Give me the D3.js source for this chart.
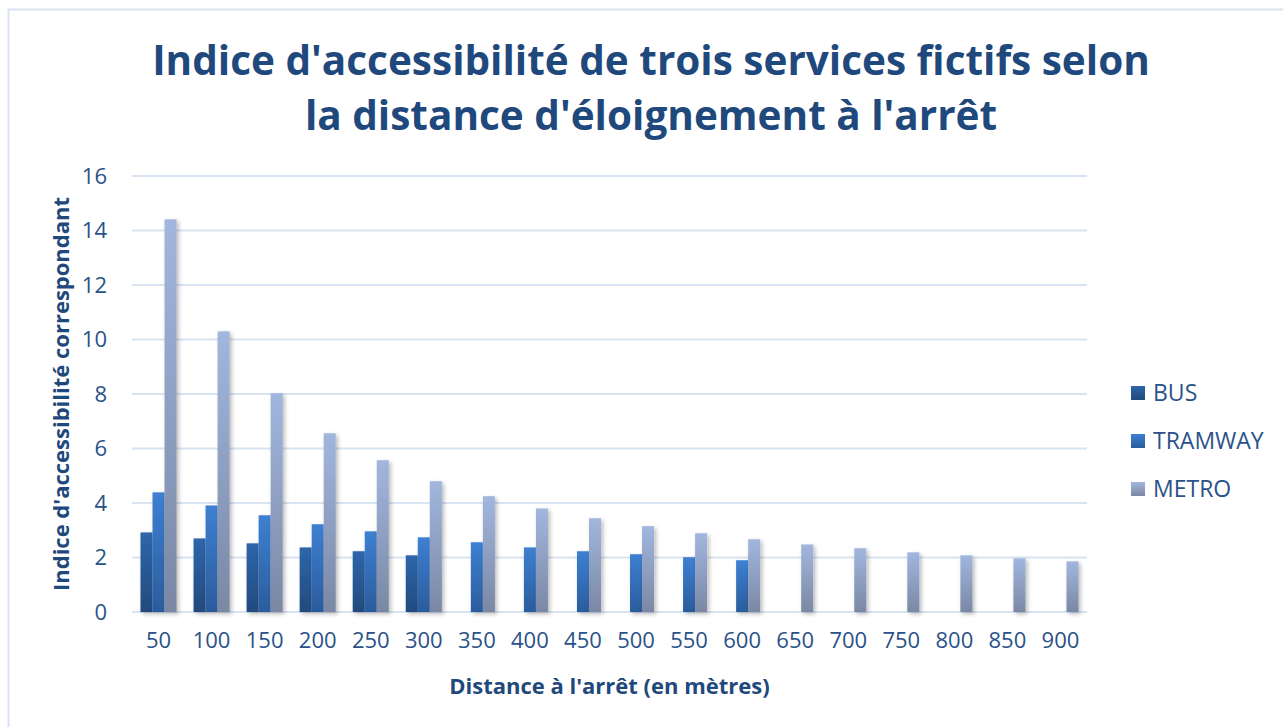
<!DOCTYPE html>
<html lang="fr">
<head>
<meta charset="utf-8">
<script src="https://cdn.jsdelivr.net/npm/d3@7"></script>
<style>
  html, body { margin: 0; padding: 0; background: #fff; }
  #chart { width: 1283px; height: 727px; }
  text { font-family: "Open Sans", "Noto Sans", sans-serif; }
</style>
</head>
<body>
<div id="chart"></div>
<script>
  'use strict';

  const CATEGORIES = ['50', '100', '150', '200', '250', '300', '350', '400', '450',
    '500', '550', '600', '650', '700', '750', '800', '850', '900'];
  const SERIES = ['BUS', 'TRAMWAY', 'METRO'];
  const BUS = [2.92, 2.70, 2.52, 2.37, 2.23, 2.08, null, null, null,
    null, null, null, null, null, null, null, null, null];
  const TRAMWAY = [4.39, 3.91, 3.55, 3.22, 2.96, 2.74, 2.56, 2.37, 2.23,
    2.12, 2.01, 1.90, null, null, null, null, null, null];
  const METRO = [14.41, 10.30, 8.03, 6.56, 5.57, 4.80, 4.25, 3.80, 3.44,
    3.15, 2.89, 2.67, 2.48, 2.34, 2.19, 2.08, 1.97, 1.86];
  const Y_TICKS = [0, 2, 4, 6, 8, 10, 12, 14, 16];

  const VALUES = { BUS: BUS, TRAMWAY: TRAMWAY, METRO: METRO };

  // top / bottom colours of the vertical gradients
  const GRADIENTS = {
    BUS: ['#2e66aa', '#224a7e'],
    TRAMWAY: ['#3d80d2', '#2b5c9c'],
    METRO: ['#a2b6de', '#7a88a4'],
  };

  const TITLE_COLOR = '#1f497d';
  const TICK_COLOR = '#2a5288';
  const GRID_COLOR = '#d9e4f3';

  const width = 1283;
  const height = 727;
  const margin = { top: 176, right: 196, bottom: 115, left: 132 };
  const chartW = width - margin.left - margin.right;
  const chartH = height - margin.top - margin.bottom;

  const svg = d3.select('#chart')
    .append('svg')
    .attr('width', width)
    .attr('height', height);

  const defs = svg.append('defs');

  SERIES.forEach(s => {
    const grad = defs.append('linearGradient')
      .attr('id', `grad-${s}`)
      .attr('x1', 0).attr('y1', 0).attr('x2', 0).attr('y2', 1);
    grad.append('stop').attr('offset', '0%').attr('stop-color', GRADIENTS[s][0]);
    grad.append('stop').attr('offset', '100%').attr('stop-color', GRADIENTS[s][1]);
  });

  const shadow = defs.append('filter')
    .attr('id', 'bar-shadow')
    .attr('x', '-50%').attr('y', '-10%')
    .attr('width', '200%').attr('height', '130%');
  shadow.append('feDropShadow')
    .attr('dx', 2).attr('dy', 2)
    .attr('stdDeviation', 2.2)
    .attr('flood-color', '#000')
    .attr('flood-opacity', 0.28);

  // Outer chart frame
  svg.append('rect')
    .attr('x', 8.5).attr('y', 9.5)
    .attr('width', width + 20).attr('height', height + 20)
    .attr('fill', 'none')
    .attr('stroke', GRID_COLOR)
    .attr('stroke-width', 2);

  const g = svg.append('g')
    .attr('transform', `translate(${margin.left},${margin.top})`);

  const x0 = d3.scaleBand()
    .domain(CATEGORIES)
    .range([0, chartW])
    .paddingInner(0.32)
    .paddingOuter(0.16);

  const x1 = d3.scaleBand()
    .domain(SERIES)
    .range([0, x0.bandwidth()])
    .padding(0);

  const y = d3.scaleLinear()
    .domain([0, 16])
    .range([chartH, 0]);

  // Grid lines
  g.append('g')
    .attr('class', 'grid')
    .selectAll('line')
    .data(Y_TICKS)
    .enter()
    .append('line')
    .attr('x1', 0)
    .attr('x2', chartW)
    .attr('y1', d => y(d))
    .attr('y2', d => y(d))
    .attr('stroke', GRID_COLOR)
    .attr('stroke-width', 2);

  // Y axis labels
  const yAxis = g.append('g')
    .call(d3.axisLeft(y).tickValues(Y_TICKS).tickSize(0).tickPadding(25));
  yAxis.select('.domain').remove();
  yAxis.selectAll('text')
    .style('font-size', '22px')
    .style('font-family', '"Open Sans", sans-serif')
    .attr('fill', TICK_COLOR);

  // X axis labels
  const xAxis = g.append('g')
    .attr('transform', `translate(0,${chartH})`)
    .call(d3.axisBottom(x0).tickSize(0).tickPadding(20));
  xAxis.select('.domain').remove();
  xAxis.selectAll('text')
    .style('font-size', '22px')
    .style('font-family', '"Open Sans", sans-serif')
    .attr('fill', TICK_COLOR);

  // Bars
  const rows = CATEGORIES.map((c, i) => ({
    cat: c,
    bars: SERIES.map(s => ({ series: s, value: VALUES[s][i] })).filter(b => b.value != null),
  }));

  g.append('g')
    .selectAll('g')
    .data(rows)
    .enter()
    .append('g')
    .attr('transform', d => `translate(${x0(d.cat)},0)`)
    .selectAll('rect')
    .data(d => d.bars)
    .enter()
    .append('rect')
    .attr('x', d => x1(d.series))
    .attr('y', d => y(d.value))
    .attr('width', x1.bandwidth())
    .attr('height', d => chartH - y(d.value))
    .attr('fill', d => `url(#grad-${d.series})`)
    .attr('filter', 'url(#bar-shadow)');

  // Title
  const title = svg.append('text')
    .attr('text-anchor', 'middle')
    .attr('fill', TITLE_COLOR)
    .style('font-size', '40.5px')
    .style('font-weight', 700);
  title.append('tspan').attr('x', 651).attr('y', 75)
    .text("Indice d'accessibilité de trois services fictifs selon");
  title.append('tspan').attr('x', 651).attr('y', 130)
    .text("la distance d'éloignement à l'arrêt");

  // Axis titles
  svg.append('text')
    .attr('x', margin.left + chartW / 2)
    .attr('y', 694)
    .attr('text-anchor', 'middle')
    .attr('fill', TITLE_COLOR)
    .style('font-size', '22px')
    .style('font-weight', 700)
    .text("Distance à l'arrêt (en mètres)");

  svg.append('text')
    .attr('transform', `translate(69,${margin.top + chartH / 2}) rotate(-90)`)
    .attr('text-anchor', 'middle')
    .attr('fill', TITLE_COLOR)
    .style('font-size', '22px')
    .style('font-weight', 700)
    .text("Indice d'accessibilité correspondant");

  // Legend
  const legend = svg.append('g')
    .attr('transform', 'translate(1131,386)');
  SERIES.forEach((s, i) => {
    const entry = legend.append('g').attr('transform', `translate(0,${i * 48})`);
    entry.append('rect')
      .attr('width', 14).attr('height', 14)
      .attr('fill', `url(#grad-${s})`);
    entry.append('text')
      .attr('x', 22).attr('y', 15)
      .attr('fill', TICK_COLOR)
      .style('font-size', '23px')
      .text(s);
  });
</script>
</body>
</html>
